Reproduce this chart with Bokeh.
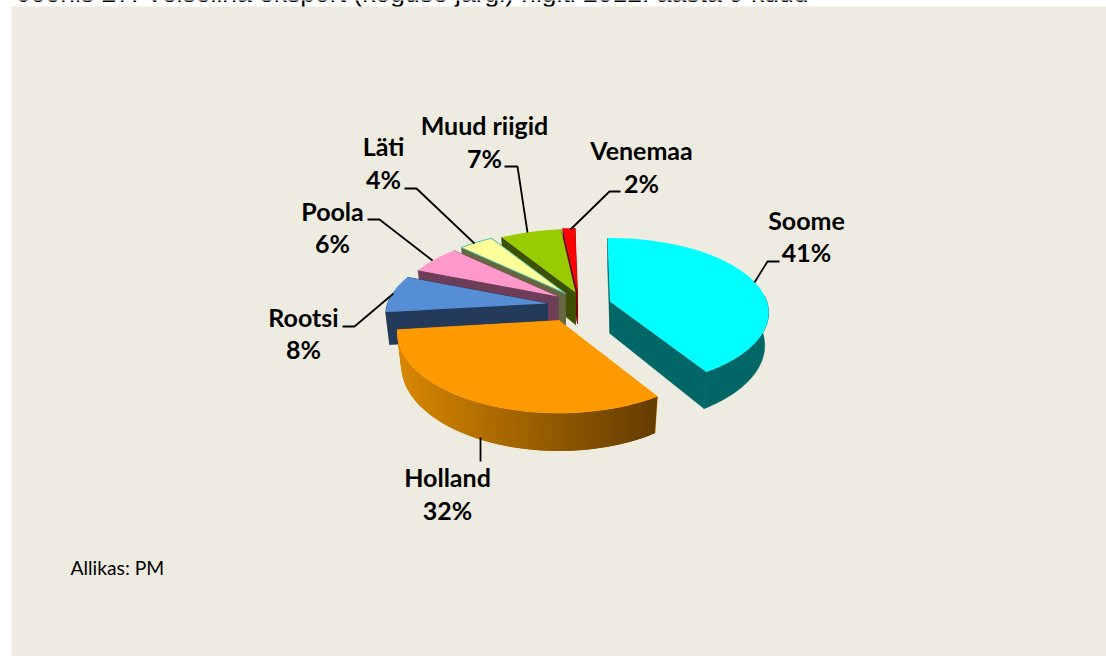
import math
from bokeh.plotting import figure
from bokeh.models import Range1d
from bokeh.core.properties import value
from bokeh.embed import file_html
from bokeh.resources import INLINE

# ---- data
categories = ["Soome", "Holland", "Rootsi", "Poola", "Läti", "Muud riigid", "Venemaa"]
shares = [41.0, 32.0, 8.0, 6.0, 4.0, 7.0, 1.4]
pct_labels = ["41%", "32%", "8%", "6%", "4%", "7%", "2%"]
title = "Joonis 27. Veiseliha eksport (koguse järgi) riigiti 2012. aasta 9 kuud"
source_note = "Allikas: PM"

# ---- styles
top_colors = ["#00FFFF", "#FF9900", "#558ED5", "#FF99CC", "#FFFF99", "#99CC00", "#FF0000"]
wall_colors = ["#006666", "#FF9900", "#243A5A", "#6E3D58", "#666640", "#3D5000", "#800000"]
outlines = [None, None, None, None, "#4DC4B8", None, None]
BG = "#EEECE1"

# ---- layout: apex of each exploded slice on the page, and perspective
apex = [(609.5, 301), (558.5, 320), (547, 303), (557.5, 296), (565, 293), (575, 292), (577, 291)]
x_scale = [0.98, 1, 1, 1, 1, 1, 1]
y_scale = [1, 1.08, 1, 1, 1, 1, 1]
RX, RY, PERSP, DEPTH, SHRINK = 160.0, 73.0, 0.15, 32.0, 0.975
START = math.radians(-1)
draw_order = [6, 5, 4, 3, 2, 0, 1]
TEXT_SHIFT = 0.4  # em, the svg text sits this far under the requested baseline

label_pos = [(806, 229, 261), (447, 486, 519), (303, 326, 358), (332, 220, 252),
             (383, 155, 188), (484, 134, 167), (641, 159, 192)]
leaders = [
    [(754, 282), (767, 261), (779, 261)],
    [(480, 437), (480, 461)],
    [(393, 293), (354, 326), (342, 326)],
    [(432, 260), (379, 219), (367, 219)],
    [(474, 243), (416, 188), (404, 188)],
    [(527, 232), (517, 166), (504, 166)],
    [(570, 229), (609, 191), (620, 191)],
]

p = figure(width=1106, height=656, x_range=Range1d(0, 1106), y_range=Range1d(656, 0),
           output_backend="svg", toolbar_location=None, min_border=0,
           margin=0, background_fill_color="white", border_fill_color="white",
           outline_line_color=None, x_axis_location=None, y_axis_location=None)
p.grid.visible = False

p.text([17], [3 - TEXT_SHIFT * 26.5], text=[title], text_font=value("Liberation Sans"),
       text_font_size="26.5px", text_color="#000000", text_baseline="alphabetic", text_align="left")
p.quad(left=[11], right=[1106], top=[6], bottom=[656], fill_color=BG, line_color=None)


def top_pt(i, theta):
    u, v = math.sin(theta), math.cos(theta)
    s = 1.0 / (1.0 + PERSP * v)
    return apex[i][0] + RX * u * s * x_scale[i], apex[i][1] - RY * v * s * y_scale[i]


def bot_pt(i, theta):
    v = math.cos(theta)
    s = 1.0 / (1.0 + PERSP * v)
    x, y = top_pt(i, theta)
    return apex[i][0] + (x - apex[i][0]) * SHRINK, y + DEPTH * s


total = sum(shares)
edges = [START]
for v_ in shares:
    edges.append(edges[-1] + v_ / total * 2 * math.pi)

for i in draw_order:
    a0, a1 = edges[i], edges[i + 1]
    n = max(8, int((a1 - a0) / math.radians(1.5)))
    thetas = [a0 + (a1 - a0) * k / n for k in range(n + 1)]
    ax, ay = apex[i]
    top = [top_pt(i, t) for t in thetas]
    bot = [bot_pt(i, t) for t in thetas]
    for t in (a0, a1):
        q = [(ax, ay), top_pt(i, t), bot_pt(i, t), (ax, ay + DEPTH)]
        p.patch([c[0] for c in q], [c[1] for c in q], fill_color=wall_colors[i],
                line_color=wall_colors[i], line_width=0.6)
    front = [k for k, t in enumerate(thetas) if math.cos(t) < 0.1]
    if categories[i] == "Holland":
        for k in range(n):
            q = [top[k], top[min(k + 2, n)], bot[min(k + 2, n)], bot[k]]
            f = (top[k][0] - top[-1][0]) / (top[0][0] - top[-1][0])
            col = "#%02X%02X%02X" % (int(217 + (0x66 - 217) * f), int(136 + (0x3D - 136) * f), 0)
            p.patch([c[0] for c in q], [c[1] for c in q], fill_color=col, line_color=None)
    elif len(front) > 1:
        q = [top[k] for k in front] + [bot[k] for k in front[::-1]]
        p.patch([c[0] for c in q], [c[1] for c in q], fill_color=wall_colors[i],
                line_color=wall_colors[i], line_width=0.6)
    q = [(ax, ay)] + top
    p.patch([c[0] for c in q], [c[1] for c in q], fill_color=top_colors[i],
            line_color=outlines[i], line_width=1.0)

for pts in leaders:
    p.line([c[0] for c in pts], [c[1] for c in pts], line_color="#000000", line_width=1.8)

for i, (lx, y1, y2) in enumerate(label_pos):
    p.text([lx, lx], [y1 - TEXT_SHIFT * 25, y2 - TEXT_SHIFT * 25], text=[categories[i], pct_labels[i]],
           text_font=value("Lato"), text_font_style="bold", text_font_size="25px", text_color="#000000",
           text_align="center", text_baseline="alphabetic")

p.text([70], [575 - TEXT_SHIFT * 19.3], text=[source_note], text_font=value("Lato"), text_font_size="19.3px",
       text_color="#000000", text_align="left", text_baseline="alphabetic")

open("out.html", "w").write(file_html(p, INLINE))
